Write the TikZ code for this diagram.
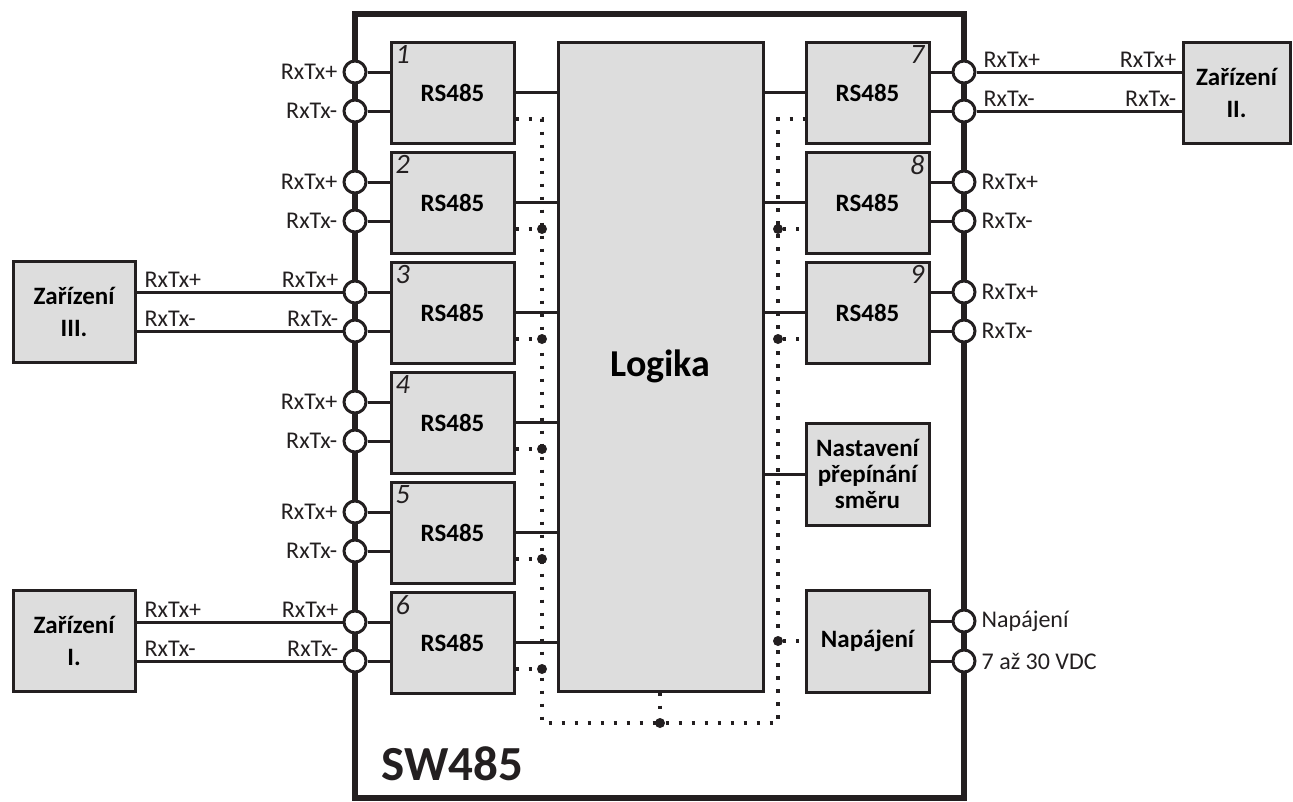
\documentclass[tikz,border=0pt]{standalone}
\usepackage{fontspec}
\setmainfont{Carlito}
\usetikzlibrary{positioning,calc}
\definecolor{boxgray}{RGB}{221,221,221}
\definecolor{ink}{RGB}{35,31,32}

\begin{document}
\begin{tikzpicture}[
    x=1pt, y=-1pt,
    frame/.style={draw=ink, line width=6.5pt, minimum width=609pt, minimum height=784pt},
    block/.style={draw=ink, line width=3pt, fill=boxgray, minimum width=123pt, minimum height=101pt, font=\fontsize{25}{26}\selectfont\bfseries, align=center},
    rsblock/.style={block},
    devblock/.style={block, minimum width=122pt, font=\fontsize{25}{32}\selectfont\bfseries},
    port/.style={circle, draw=ink, fill=white, line width=3pt, minimum size=22pt, inner sep=0pt},
    jdot/.style={circle, fill=ink, minimum size=10pt, inner sep=0pt},
    wire/.style={draw=ink, line width=3pt},
    dotbus/.style={draw=ink, line width=3.2pt, dash pattern=on 3.2pt off 9.8pt},
    lbl/.style={font=\fontsize{24}{29}\selectfont, text=ink, inner sep=1pt},
    num/.style={font=\fontsize{28}{30}\selectfont\itshape, text=ink, inner xsep=6pt, inner ysep=5pt},
]
\useasboundingbox (0,0) rectangle (1293,801);

% Housing
\node[frame] (sw) at (659.5,406) {};
\node[font=\fontsize{49}{52}\selectfont\bfseries, text=ink, anchor=south west, inner sep=0pt] (swname) at (381,781) {SW485};

% Logic
\node[block, minimum width=205pt, minimum height=649pt, font=\fontsize{38}{42}\selectfont\bfseries] (logic) at (660.5,366.5) {Logika};

% RS485 blocks, left
\node[rsblock] (rs1) at (452.5,92.5) {RS485};
\node[rsblock] (rs2) at (452.5,202.5) {RS485};
\node[rsblock] (rs3) at (452.5,312.5) {RS485};
\node[rsblock] (rs4) at (452.5,422.5) {RS485};
\node[rsblock] (rs5) at (452.5,532.5) {RS485};
\node[rsblock] (rs6) at (452.5,642.5) {RS485};

% RS485 blocks, right
\node[rsblock] (rs7) at (867.5,92.5) {RS485};
\node[rsblock] (rs8) at (867.5,202.5) {RS485};
\node[rsblock] (rs9) at (867.5,312.5) {RS485};

% Setting and power
\node[block, minimum height=102pt] (dirset) at (867.5,474) {Nastavení\\přepínání\\směru};
\node[block, minimum height=102pt] (power) at (867.5,641) {Napájení};

% Numbers
\node[num, anchor=north west] at (rs1.north west) {1};
\node[num, anchor=north west] at (rs2.north west) {2};
\node[num, anchor=north west] at (rs3.north west) {3};
\node[num, anchor=north west] at (rs4.north west) {4};
\node[num, anchor=north west] at (rs5.north west) {5};
\node[num, anchor=north west] at (rs6.north west) {6};
\node[num, anchor=north east] at (rs7.north east) {7};
\node[num, anchor=north east] at (rs8.north east) {8};
\node[num, anchor=north east] at (rs9.north east) {9};

% Devices
\node[devblock, minimum height=101pt] (dev3) at (74,312) {Zařízení\\III.};
\node[devblock, minimum height=101pt] (dev1) at (74,641) {Zařízení\\I.};
\node[devblock, minimum width=107pt] (dev2) at (1236.5,92.5) {Zařízení\\II.};

% Block to logic
\draw[wire] (rs1.east) -- (rs1.east -| logic.west);
\draw[wire] (rs2.east) -- (rs2.east -| logic.west);
\draw[wire] (rs3.east) -- (rs3.east -| logic.west);
\draw[wire] (rs4.east) -- (rs4.east -| logic.west);
\draw[wire] (rs5.east) -- (rs5.east -| logic.west);
\draw[wire] (rs6.east) -- (rs6.east -| logic.west);
\draw[wire] (rs7.west -| logic.east) -- (rs7.west);
\draw[wire] (rs8.west -| logic.east) -- (rs8.west);
\draw[wire] (rs9.west -| logic.east) -- (rs9.west);
\draw[wire] (dirset.west -| logic.east) -- (dirset.west);

% Dotted bus
\coordinate (btl) at (542,119);
\coordinate (bbl) at (542,723);
\coordinate (bbr) at (778,723);
\coordinate (btr) at (778,119);
\draw[dotbus] (rs1.east |- btl) -- (btl) -- (bbl) -- (bbr) -- (btr) -- (rs7.west |- btr);
\node[jdot] (j2) at (542,229) {};
\node[jdot] (j3) at (542,339) {};
\node[jdot] (j4) at (542,449) {};
\node[jdot] (j5) at (542,559) {};
\node[jdot] (j6) at (542,669) {};
\node[jdot] (j8) at (778,229) {};
\node[jdot] (j9) at (778,339) {};
\node[jdot] (jp) at (778,641) {};
\node[jdot] (jm) at (660,723) {};
\draw[dotbus] (rs2.east |- j2) -- (j2);
\draw[dotbus] (rs3.east |- j3) -- (j3);
\draw[dotbus] (rs4.east |- j4) -- (j4);
\draw[dotbus] (rs5.east |- j5) -- (j5);
\draw[dotbus] (rs6.east |- j6) -- (j6);
\draw[dotbus] (j8) -- (rs8.west |- j8);
\draw[dotbus] (j9) -- (rs9.west |- j9);
\draw[dotbus] (jp) -- (power.west);
\draw[dotbus] (logic.south -| jm) -- (jm);

% Ports, left
\node[port] (p1a) at (355,72) {};
\node[port] (p1b) at (355,111) {};
\node[port] (p2a) at (355,182) {};
\node[port] (p2b) at (355,221) {};
\node[port] (p3a) at (355,292) {};
\node[port] (p3b) at (355,331) {};
\node[port] (p4a) at (355,402) {};
\node[port] (p4b) at (355,441) {};
\node[port] (p5a) at (355,512) {};
\node[port] (p5b) at (355,551) {};
\node[port] (p6a) at (355,622) {};
\node[port] (p6b) at (355,661) {};

% Ports, right
\node[port] (p7a) at (964,72) {};
\node[port] (p7b) at (964,111) {};
\node[port] (p8a) at (964,182) {};
\node[port] (p8b) at (964,221) {};
\node[port] (p9a) at (964,292) {};
\node[port] (p9b) at (964,331) {};
\node[port] (pn1) at (964,621) {};
\node[port] (pn2) at (964,661) {};

% Port wires
\draw[wire] (p1a) -- (p1a -| rs1.west);
\draw[wire] (p1b) -- (p1b -| rs1.west);
\draw[wire] (p2a) -- (p2a -| rs2.west);
\draw[wire] (p2b) -- (p2b -| rs2.west);
\draw[wire] (p3a) -- (p3a -| rs3.west);
\draw[wire] (p3b) -- (p3b -| rs3.west);
\draw[wire] (p4a) -- (p4a -| rs4.west);
\draw[wire] (p4b) -- (p4b -| rs4.west);
\draw[wire] (p5a) -- (p5a -| rs5.west);
\draw[wire] (p5b) -- (p5b -| rs5.west);
\draw[wire] (p6a) -- (p6a -| rs6.west);
\draw[wire] (p6b) -- (p6b -| rs6.west);
\draw[wire] (p7a -| rs7.east) -- (p7a);
\draw[wire] (p7b -| rs7.east) -- (p7b);
\draw[wire] (p8a -| rs8.east) -- (p8a);
\draw[wire] (p8b -| rs8.east) -- (p8b);
\draw[wire] (p9a -| rs9.east) -- (p9a);
\draw[wire] (p9b -| rs9.east) -- (p9b);
\draw[wire] (pn1 -| power.east) -- (pn1);
\draw[wire] (pn2 -| power.east) -- (pn2);

% Device cables
\draw[wire] (dev3.east |- p3a) -- (p3a);
\draw[wire] (dev3.east |- p3b) -- (p3b);
\draw[wire] (dev1.east |- p6a) -- (p6a);
\draw[wire] (dev1.east |- p6b) -- (p6b);
\draw[wire] (p7a) -- (dev2.west |- p7a);
\draw[wire] (p7b) -- (dev2.west |- p7b);

% Labels
\node[lbl, left=4pt of p1a] {RxTx+};
\node[lbl, left=4pt of p1b] {RxTx-};
\node[lbl, left=4pt of p2a] {RxTx+};
\node[lbl, left=4pt of p2b] {RxTx-};
\node[lbl, left=4pt of p4a] {RxTx+};
\node[lbl, left=4pt of p4b] {RxTx-};
\node[lbl, left=4pt of p5a] {RxTx+};
\node[lbl, left=4pt of p5b] {RxTx-};
\node[lbl, right=4pt of p8a] {RxTx+};
\node[lbl, right=4pt of p8b] {RxTx-};
\node[lbl, right=4pt of p9a] {RxTx+};
\node[lbl, right=4pt of p9b] {RxTx-};
\node[lbl, right=4pt of pn1] {Napájení};
\node[lbl, right=4pt of pn2] {7 až 30 VDC};

\node[lbl, anchor=base east] at ($(p3a.west)+(-3,-5)$) {RxTx+};
\node[lbl, anchor=base east] at ($(p3b.west)+(-3,-5)$) {RxTx-};
\node[lbl, anchor=base west] at ($(dev3.east |- p3a)+(7,-5)$) {RxTx+};
\node[lbl, anchor=base west] at ($(dev3.east |- p3b)+(7,-5)$) {RxTx-};
\node[lbl, anchor=base east] at ($(p6a.west)+(-3,-5)$) {RxTx+};
\node[lbl, anchor=base east] at ($(p6b.west)+(-3,-5)$) {RxTx-};
\node[lbl, anchor=base west] at ($(dev1.east |- p6a)+(7,-5)$) {RxTx+};
\node[lbl, anchor=base west] at ($(dev1.east |- p6b)+(7,-5)$) {RxTx-};
\node[lbl, anchor=base west] at ($(p7a.east)+(6,-5)$) {RxTx+};
\node[lbl, anchor=base west] at ($(p7b.east)+(6,-5)$) {RxTx-};
\node[lbl, anchor=base east] at ($(dev2.west |- p7a)+(-4,-5)$) {RxTx+};
\node[lbl, anchor=base east] at ($(dev2.west |- p7b)+(-4,-5)$) {RxTx-};

\end{tikzpicture}
\end{document}
